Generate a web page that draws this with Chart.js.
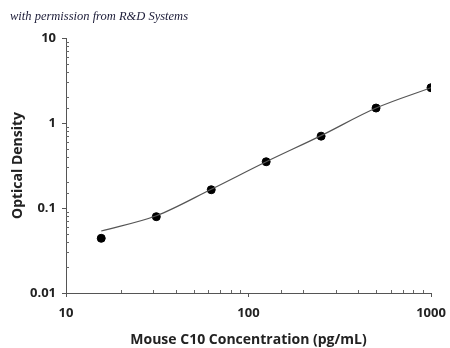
<!DOCTYPE html>
<html>
<head>
<meta charset="utf-8">
<script src="https://cdn.jsdelivr.net/npm/chart.js@4/dist/chart.umd.min.js"></script>
<style>
  html, body { margin: 0; padding: 0; background: #fff; }
  #wrap { width: 450px; height: 348px; }
</style>
</head>
<body>
<div id="wrap"><canvas id="myChart"></canvas></div>
<script>
// standards (pg/mL) and measured optical density
var concentrations = [15.6, 31.25, 62.5, 125, 250, 500, 1000];
var odValues = [0.044, 0.079, 0.164, 0.35, 0.70, 1.50, 2.60];
// fitted curve at the same concentrations
var fitValues = [0.0536, 0.081, 0.166, 0.35, 0.71, 1.50, 2.60];

var xTickLabels = ['10', '100', '1000'];
var yTickLabels = ['0.01', '0.1', '1', '10'];

function majorLabel(value, labels) {
    for (var i = 0; i < labels.length; i++) {
        if (Math.abs(Number(labels[i]) - value) / value < 1e-6) return labels[i];
    }
    return '';
}

// petites graduations à l'intérieur du cadre
var minorTicks = {
    id: 'minorTicks',
    afterDraw: function(chart) {
        var ctx = chart.ctx;
        var area = chart.chartArea;
        ctx.save();
        ctx.strokeStyle = '#666';
        ctx.lineWidth = 1;
        chart.scales.x.ticks.forEach(function(t) {
            if (majorLabel(t.value, xTickLabels) !== '') return;
            var px = Math.round(chart.scales.x.getPixelForValue(t.value)) + 0.5;
            ctx.beginPath();
            ctx.moveTo(px, area.bottom);
            ctx.lineTo(px, area.bottom - 3);
            ctx.stroke();
        });
        chart.scales.y.ticks.forEach(function(t) {
            if (majorLabel(t.value, yTickLabels) !== '') return;
            var py = Math.round(chart.scales.y.getPixelForValue(t.value)) + 0.5;
            ctx.beginPath();
            ctx.moveTo(area.left, py);
            ctx.lineTo(area.left + 3, py);
            ctx.stroke();
        });
        ctx.restore();
    }
};

var ctx = document.getElementById('myChart').getContext('2d');
var myChart = new Chart(ctx, {
    type: 'scatter',
    data: {
        datasets: [{
            label: 'Fit',
            data: concentrations.map(function(c, i) { return { x: c, y: fitValues[i] }; }),
            showLine: true,
            borderColor: '#555',
            borderWidth: 1.2,
            pointRadius: 0,
            cubicInterpolationMode: 'monotone',
            fill: false
        }, {
            label: 'Standards',
            data: concentrations.map(function(c, i) { return { x: c, y: odValues[i] }; }),
            backgroundColor: '#000',
            borderColor: '#000',
            pointRadius: 4,
            showLine: false
        }]
    },
    options: {
        responsive: true,
        maintainAspectRatio: false,
        animation: false,
        layout: { padding: { left: 10, right: 19, top: 0, bottom: 0 } },
        plugins: {
            legend: { display: false },
            tooltip: { enabled: false },
            title: {
                display: true,
                text: 'with permission from R&D Systems',
                align: 'start',
                color: '#1c1c38',
                font: { family: '"Liberation Serif"', style: 'italic', size: 12.5, weight: 'normal' },
                padding: { top: 9, bottom: 14 }
            }
        },
        scales: {
            x: {
                type: 'logarithmic',
                min: 10,
                max: 1000,
                afterFit: function(scale) {
                    scale.height = 55;
                    scale.paddingLeft = 0;
                    scale.paddingRight = 0;
                },
                border: { display: true, color: '#555', width: 1 },
                grid: {
                    drawOnChartArea: false,
                    drawTicks: true,
                    tickLength: 4,
                    tickColor: function(c) { return c.tick && majorLabel(c.tick.value, xTickLabels) !== '' ? '#555' : 'rgba(0,0,0,0)'; }
                },
                ticks: {
                    autoSkip: false,
                    maxRotation: 0,
                    padding: 8,
                    color: '#222',
                    font: { family: '"Open Sans"', weight: 'bold', size: 13 },
                    callback: function(value) { return majorLabel(value, xTickLabels); }
                },
                title: {
                    display: true,
                    text: 'Mouse C10 Concentration (pg/mL)',
                    color: '#222',
                    font: { family: '"Open Sans"', weight: 'bold', size: 14 },
                    padding: { top: 4, bottom: 0 }
                }
            },
            y: {
                type: 'logarithmic',
                min: 0.01,
                max: 10,
                afterFit: function(scale) {
                    scale.width = 56;
                    scale.paddingTop = 0;
                    scale.paddingBottom = 0;
                },
                border: { display: true, color: '#555', width: 1 },
                grid: {
                    drawOnChartArea: false,
                    drawTicks: true,
                    tickLength: 4,
                    tickColor: function(c) { return c.tick && majorLabel(c.tick.value, yTickLabels) !== '' ? '#555' : 'rgba(0,0,0,0)'; }
                },
                ticks: {
                    autoSkip: false,
                    padding: 6,
                    color: '#222',
                    font: { family: '"Open Sans"', weight: 'bold', size: 13 },
                    callback: function(value) { return majorLabel(value, yTickLabels); }
                },
                title: {
                    display: true,
                    text: 'Optical Density',
                    color: '#222',
                    font: { family: '"Open Sans"', weight: 'bold', size: 14 },
                    padding: { top: 0, bottom: 4 }
                }
            }
        }
    },
    plugins: [minorTicks]
});
</script>
</body>
</html>
